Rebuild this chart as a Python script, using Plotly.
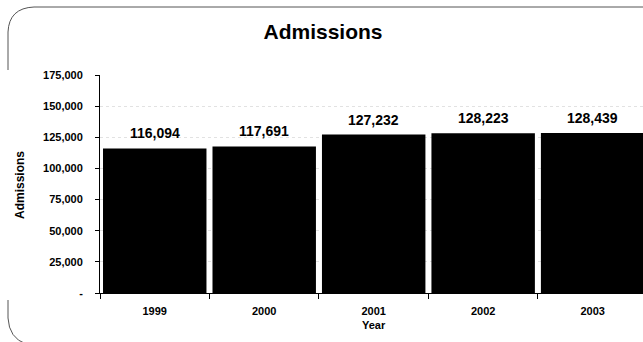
import plotly.graph_objects as go

# Yearly admissions
years = ["1999", "2000", "2001", "2002", "2003"]
admissions = [116094, 117691, 127232, 128223, 128439]

tick_vals = [0, 25000, 50000, 75000, 100000, 125000, 150000, 175000]
tick_text = ["-", "25,000", "50,000", "75,000", "100,000", "125,000", "150,000", "175,000"]

FONT = "Arial, Liberation Sans, sans-serif"

fig = go.Figure(
    go.Bar(
        x=years,
        y=admissions,
        marker=dict(color="#000000", line=dict(width=0)),
        hoverinfo="x+y",
    )
)


def px_x(p):
    return (p - 100) / 543


def px_y(p):
    return (293 - p) / 218


# value labels above each bar (category axis positions by index)
value_labels = [
    dict(
        x=i,
        y=val,
        xref="x",
        yref="y",
        text=f"<b>{val:,}</b>",
        showarrow=False,
        yanchor="middle",
        yshift=15,
        font=dict(family=FONT, size=14, color="#000000"),
    )
    for i, val in enumerate(admissions)
]

# rounded frame corners around the chart
frame_top = (
    f"M {px_x(655)} {px_y(7)} L {px_x(34)} {px_y(7)} "
    f"Q {px_x(9)} {px_y(8)} {px_x(8)} {px_y(32)} "
    f"L {px_x(8)} {px_y(70)}"
)
frame_bottom = (
    f"M {px_x(8)} {px_y(300)} L {px_x(8)} {px_y(318)} "
    f"Q {px_x(9)} {px_y(338)} {px_x(26)} {px_y(344)}"
)

fig.update_layout(
    width=643,
    height=342,
    margin=dict(l=100, r=0, t=75, b=49),
    paper_bgcolor="#ffffff",
    plot_bgcolor="#ffffff",
    bargap=0.055,
    showlegend=False,
    font=dict(family=FONT, color="#000000"),
    title=dict(
        text="<b>Admissions</b>",
        x=323 / 643,
        xanchor="center",
        y=1 - 32 / 342,
        yanchor="middle",
        font=dict(family=FONT, size=21, color="#000000"),
    ),
    xaxis=dict(
        type="category",
        range=[-0.5, 4.46],
        showline=True,
        linecolor="#000000",
        linewidth=1,
        ticks="outside",
        tickson="boundaries",
        ticklen=5,
        tickcolor="#000000",
        ticklabelstandoff=8,
        tickfont=dict(family=FONT, size=11, color="#000000", weight="bold"),
        showgrid=False,
        fixedrange=True,
    ),
    yaxis=dict(
        range=[0, 175000],
        tickvals=tick_vals,
        ticktext=tick_text,
        showline=True,
        linecolor="#000000",
        linewidth=1,
        ticks="outside",
        ticklen=4,
        tickcolor="#000000",
        ticklabelstandoff=10,
        tickfont=dict(family=FONT, size=11, color="#000000", weight="bold"),
        showgrid=True,
        gridcolor="#e2e2e2",
        griddash="dot",
        gridwidth=1,
        zeroline=False,
        fixedrange=True,
    ),
    annotations=value_labels
    + [
        dict(
            text="<b>Admissions</b>",
            textangle=-90,
            xref="paper",
            yref="paper",
            x=px_x(20),
            y=px_y(185),
            xanchor="center",
            yanchor="middle",
            showarrow=False,
            font=dict(family=FONT, size=12, color="#000000"),
        ),
        dict(
            text="<b>Year</b>",
            xref="paper",
            yref="paper",
            x=px_x(374),
            y=px_y(325),
            xanchor="center",
            yanchor="middle",
            showarrow=False,
            font=dict(family=FONT, size=11, color="#000000"),
        ),
    ],
    shapes=[
        dict(type="path", path=p, xref="paper", yref="paper",
             line=dict(color="#555555", width=1))
        for p in (frame_top, frame_bottom)
    ],
)

fig.write_html("out.html")
